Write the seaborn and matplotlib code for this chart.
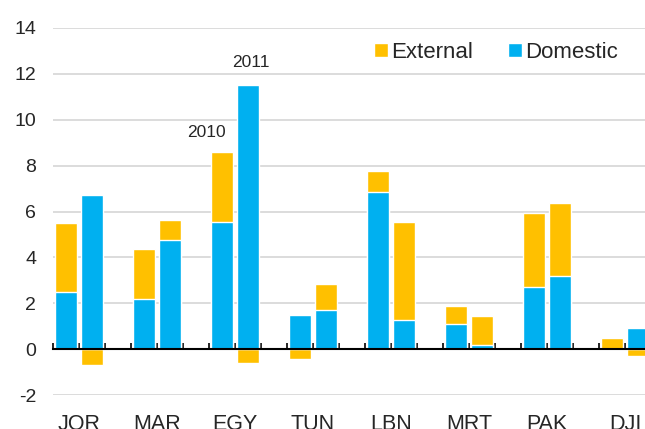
import numpy as np
import pandas as pd
import seaborn as sns
import matplotlib.pyplot as plt

countries = ["JOR", "MAR", "EGY", "TUN", "LBN", "MRT", "PAK", "DJI"]
years = ["2010", "2011"]

# values per country: (2010, 2011)
domestic = [2.5, 6.7, 2.2, 4.75, 5.55, 11.5, 1.5, 1.7,
            6.85, 1.25, 1.1, 0.2, 2.7, 3.2, 0.0, 0.9]
external = [3.0, -0.7, 2.15, 0.9, 3.05, -0.6, -0.45, 1.15,
            0.9, 4.3, 0.8, 1.25, 3.25, 3.15, 0.48, -0.28]

yellow = "#FFC000"
blue = "#00B0F0"

sns.set_theme(style="white")
plt.rcParams["font.family"] = ["Liberation Sans", "DejaVu Sans"]
plt.rcParams["axes.unicode_minus"] = False

# 3 slots per country: 2010 bar, 2011 bar, gap
df = pd.DataFrame({
    "country": np.repeat(countries, 2),
    "year": years * len(countries),
    "domestic": domestic,
    "external": external,
})
df["pos"] = np.repeat(np.arange(len(countries)) * 3, 2) + np.tile([0, 1], len(countries))
ext = df["external"]
df["ext_top"] = np.where(ext > 0, df["domestic"] + ext, ext)

fig = plt.figure(figsize=(6.45, 4.29), dpi=100)
ax = fig.add_axes([53 / 645, 34 / 429, 624 / 645, 367 / 429])

sns.barplot(data=df, x="pos", y="ext_top", native_scale=True, color=yellow,
            saturation=1, width=0.84, ax=ax, label="External", zorder=2)
sns.barplot(data=df, x="pos", y="domestic", native_scale=True, color=blue,
            saturation=1, width=0.84, ax=ax, label="Domestic", zorder=3)

ax.set_ylim(-2, 14)
ax.set_xlim(-0.5, len(countries) * 3 - 0.5)
ax.set_yticks(np.arange(-2, 15, 2))
ax.yaxis.grid(True, color="#D9D9D9", lw=1.3)
ax.set_axisbelow(True)
ax.tick_params(axis="y", length=0, pad=12, labelsize=14)
ax.set_xlabel("")
ax.set_ylabel("")
for s in ["left", "right", "top"]:
    ax.spines[s].set_visible(False)

# zero line with category boundary ticks
ax.spines["bottom"].set_position(("data", 0))
ax.spines["bottom"].set_color("black")
ax.spines["bottom"].set_linewidth(1.5)
ax.spines["bottom"].set_zorder(4)
ax.set_xticks(np.arange(-0.5, len(countries) * 3, 1))
ax.tick_params(axis="x", direction="in", length=4, width=1.2, color="black",
               labelbottom=False, bottom=True)

sec = ax.secondary_xaxis("bottom")
sec.set_xticks(np.arange(len(countries)) * 3 + 0.5, countries)
sec.spines["bottom"].set_visible(False)
sec.tick_params(length=0, labelsize=15.5, pad=14)

ax.text(6 - 0.6, 9.45, "2010", ha="center", va="center", fontsize=12.5)
ax.text(7.1, 12.5, "2011", ha="center", va="center", fontsize=12.5)

handles, labels = ax.get_legend_handles_labels()
ax.legend(handles, labels, loc="center", bbox_to_anchor=(496 / 645, 1 - 52 / 429),
          bbox_transform=fig.transFigure, ncol=2, frameon=False, fontsize=16,
          handlelength=0.6, handleheight=0.6, handletextpad=0.15, columnspacing=1.6)

fig.savefig("out.png", dpi=100)
